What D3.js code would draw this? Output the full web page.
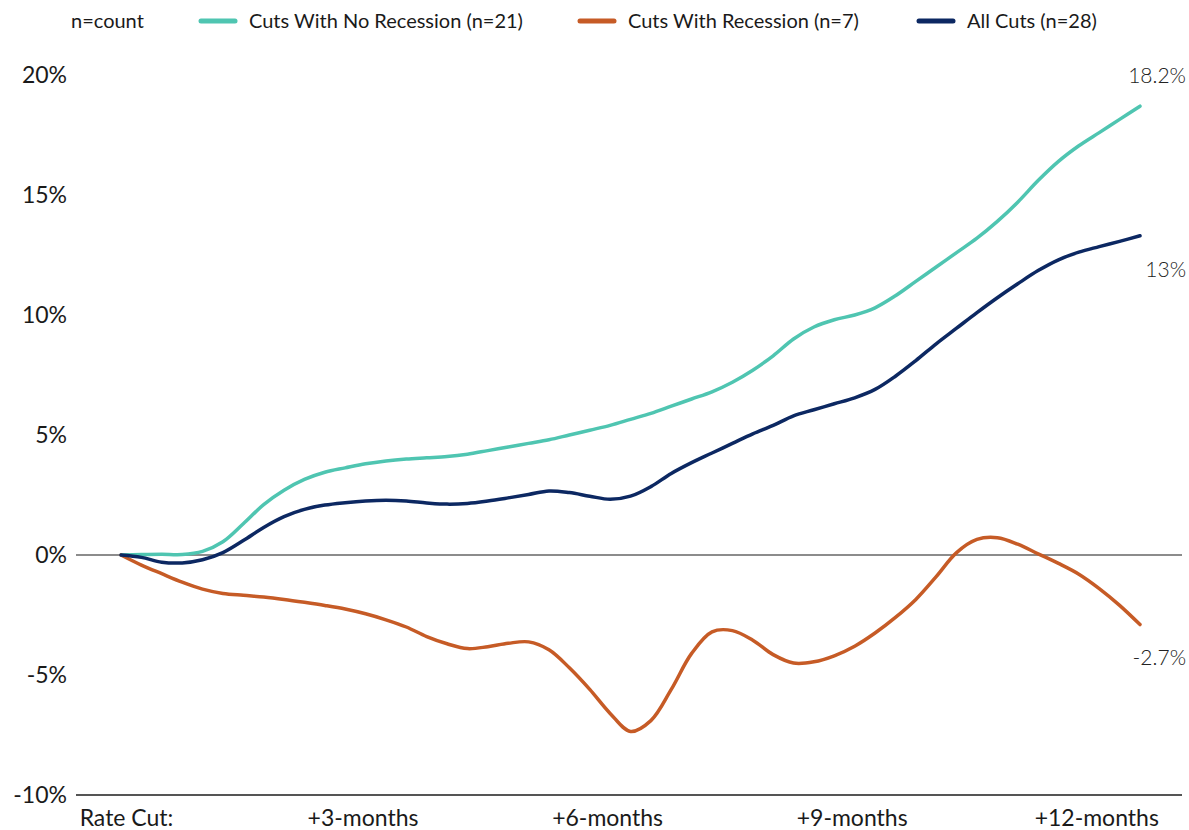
<!DOCTYPE html>
<html lang="en">
<head>
    <meta charset="UTF-8">
    <title>Rate cuts</title>
    <script src="https://cdnjs.cloudflare.com/ajax/libs/d3/7.8.5/d3.min.js"></script>
    <style>
        body { margin: 0; background: #fff; }
        text { font-family: Lato, "Noto Sans", sans-serif; }
    </style>
</head>
<body>
<svg id="chart" width="1189" height="830"></svg>

<script>
    // months after the cut, one point every quarter month
    var months = d3.range(0, 12.51, 0.25);

    var noRecession = [0, 0.02, 0.03, 0.02, 0.15, 0.55, 1.3, 2.1, 2.7, 3.15,
        3.45, 3.63, 3.8, 3.92, 4.0, 4.05, 4.1, 4.2, 4.35, 4.5,
        4.65, 4.8, 5.0, 5.2, 5.4, 5.65, 5.9, 6.2, 6.5, 6.8,
        7.2, 7.7, 8.3, 9.0, 9.5, 9.8, 10.0, 10.3, 10.8, 11.4,
        12.0, 12.6, 13.2, 13.9, 14.7, 15.6, 16.4, 17.05, 17.6, 18.15, 18.7];

    var withRecession = [0, -0.42, -0.78, -1.13, -1.42, -1.6, -1.68, -1.75, -1.85, -1.97,
        -2.1, -2.25, -2.45, -2.7, -3.0, -3.4, -3.7, -3.9, -3.82, -3.68,
        -3.62, -3.95, -4.7, -5.6, -6.6, -7.35, -6.9, -5.6, -4.1, -3.2,
        -3.15, -3.55, -4.15, -4.5, -4.45, -4.2, -3.8, -3.25, -2.6, -1.85,
        -0.9, 0.1, 0.65, 0.72, 0.45, 0.05, -0.35, -0.8, -1.4, -2.1, -2.9];

    var allCuts = [0, -0.1, -0.3, -0.33, -0.2, 0.1, 0.6, 1.15, 1.6, 1.9,
        2.08, 2.18, 2.25, 2.28, 2.25, 2.17, 2.12, 2.15, 2.25, 2.38,
        2.52, 2.67, 2.6, 2.45, 2.32, 2.45, 2.85, 3.4, 3.85, 4.25,
        4.65, 5.05, 5.4, 5.8, 6.05, 6.3, 6.55, 6.9, 7.45, 8.1,
        8.8, 9.45, 10.1, 10.72, 11.3, 11.85, 12.3, 12.62, 12.85, 13.07, 13.3];

    var seriesNames = ['Cuts With No Recession (n=21)', 'Cuts With Recession (n=7)', 'All Cuts (n=28)'];
    var endLabels = ['18.2%', '-2.7%', '13%'];
    var xTicks = [0, 3, 6, 9, 12];
    var xTickLabels = ['Rate Cut:', '+3-months', '+6-months', '+9-months', '+12-months'];
    var yTicks = [-10, -5, 0, 5, 10, 15, 20];

    var colors = ['#4fc5b1', '#c65b26', '#0c2862'];
    var labelShift = [-31, 33, 34]; // end label offset from line end

    var series = [noRecession, withRecession, allCuts].map(function (vals, i) {
        return {
            name: seriesNames[i],
            color: colors[i],
            label: endLabels[i],
            shift: labelShift[i],
            points: vals.map(function (v, j) { return {m: months[j], v: v}; })
        };
    });

    var svg = d3.select('#chart');

    var x = d3.scaleLinear().domain([0, 12.5]).range([121, 1140]);
    var y = d3.scaleLinear().domain([-10, 20]).range([795, 75]);

    // y labels
    var yAxis = svg.append('g')
            .attr('transform', 'translate(67,0)')
            .call(d3.axisLeft(y).tickValues(yTicks).tickSize(0).tickPadding(0)
                    .tickFormat(function (d) { return d + '%'; }));
    yAxis.select('.domain').remove();
    yAxis.selectAll('text')
            .attr('font-size', '23px')
            .attr('fill', '#1a1a1a')
            .style('font-family', 'Lato, sans-serif');

    // zero line and bottom line
    svg.selectAll('.hline')
            .data([0, -10])
            .enter()
            .append('line')
            .attr('class', 'hline')
            .attr('x1', 76)
            .attr('x2', 1182)
            .attr('y1', function (d) { return y(d); })
            .attr('y2', function (d) { return y(d); })
            .attr('stroke', function (d) { return d === 0 ? '#666' : '#555'; })
            .attr('stroke-width', function (d) { return d === 0 ? 1.3 : 1.8; });

    // x labels
    var xAxis = svg.append('g')
            .attr('transform', 'translate(0,' + y(-10) + ')')
            .call(d3.axisBottom(x).tickValues(xTicks).tickSize(0).tickPadding(0)
                    .tickFormat(function (d, i) { return xTickLabels[i]; }));
    xAxis.select('.domain').remove();
    xAxis.selectAll('text')
            .attr('dy', 0)
            .attr('y', 31)
            .attr('dx', function (d, i) { return i === 0 ? 5 : -3; })
            .attr('font-size', '23px')
            .attr('fill', '#1a1a1a')
            .style('font-family', 'Lato, sans-serif');

    var line = d3.line()
            .x(function (d) { return x(d.m); })
            .y(function (d) { return y(d.v); })
            .curve(d3.curveCatmullRom.alpha(0.5));

    svg.selectAll('.series')
            .data(series)
            .enter()
            .append('path')
            .attr('class', 'series')
            .attr('d', function (d) { return line(d.points); })
            .attr('fill', 'none')
            .attr('stroke', function (d) { return d.color; })
            .attr('stroke-width', 3.5)
            .attr('stroke-linecap', 'round');

    svg.selectAll('.end-label')
            .data(series)
            .enter()
            .append('text')
            .attr('class', 'end-label')
            .attr('x', 1186)
            .attr('y', function (d) { return y(d.points[d.points.length - 1].v) + d.shift; })
            .attr('dy', '0.35em')
            .attr('text-anchor', 'end')
            .attr('font-size', '21px')
            .attr('font-weight', 300)
            .attr('fill', '#222')
            .text(function (d) { return d.label; });

    // legend
    var legend = svg.append('g').attr('transform', 'translate(0,21)');
    legend.append('text')
            .attr('x', 71)
            .attr('dy', '0.35em')
            .attr('font-size', '20px')
            .attr('fill', '#1a1a1a')
            .text('n=count');

    var legendX = [199, 578, 917];
    var items = legend.selectAll('.item')
            .data(series)
            .enter()
            .append('g')
            .attr('class', 'item')
            .attr('transform', function (d, i) { return 'translate(' + legendX[i] + ',0)'; });
    items.append('line')
            .attr('x1', 2)
            .attr('x2', 36)
            .attr('stroke', function (d) { return d.color; })
            .attr('stroke-width', 5)
            .attr('stroke-linecap', 'round');
    items.append('text')
            .attr('x', 50)
            .attr('dy', '0.35em')
            .attr('font-size', '20px')
            .attr('fill', '#1a1a1a')
            .text(function (d) { return d.name; });
</script>
</body>
</html>
